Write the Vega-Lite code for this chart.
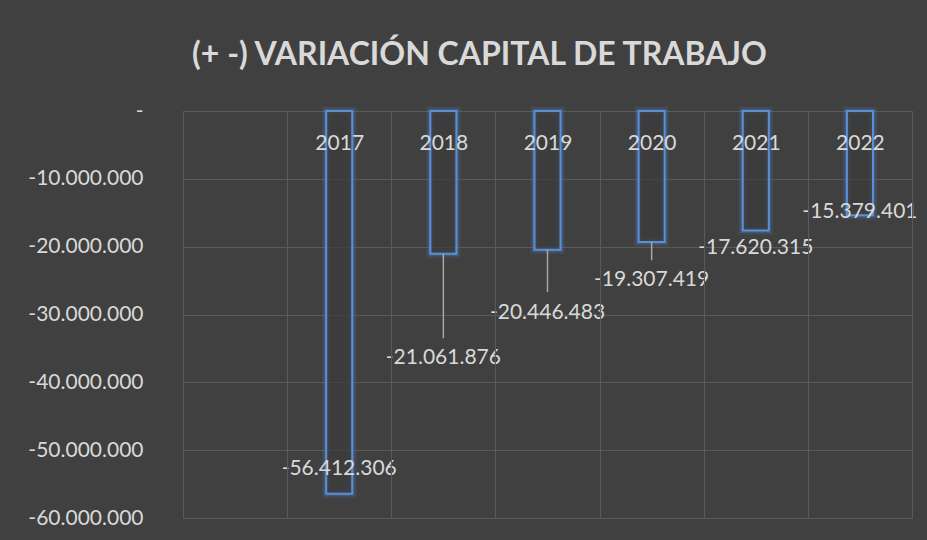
{
  "$schema": "https://vega.github.io/schema/vega-lite/v6.json",
  "width": 729,
  "height": 407,
  "autosize": {"type": "none"},
  "padding": {"left": 183, "top": 111, "right": 15, "bottom": 22},
  "background": "#404040",
  "title": {
    "text": "(+ -) VARIACIÓN CAPITAL DE TRABAJO",
    "font": "Lato",
    "fontSize": 32,
    "fontWeight": "bold",
    "color": "#d9d9d9",
    "anchor": "middle",
    "frame": "group",
    "dx": -68,
    "offset": 3,
    "baseline": "alphabetic"
  },
  "config": {
    "locale": {"number": {"decimal": ",", "thousands": ".", "grouping": [3], "currency": ["$", ""], "minus": "-"}},
    "view": {"stroke": "#5a5a5a", "strokeWidth": 1, "fill": "#404040"},
    "font": "Lato"
  },
  "data": {
    "values": [
      {"year": "2017", "value": -56412306, "labelY": -52800000, "leaderEnd": null},
      {"year": "2018", "value": -21061876, "labelY": -36400000, "leaderEnd": -33500000},
      {"year": "2019", "value": -20446483, "labelY": -29800000, "leaderEnd": -26700000},
      {"year": "2020", "value": -19307419, "labelY": -24900000, "leaderEnd": -22000000},
      {"year": "2021", "value": -17620315, "labelY": -20200000, "leaderEnd": null},
      {"year": "2022", "value": -15379401, "labelY": -14900000, "leaderEnd": null}
    ]
  },
  "encoding": {
    "x": {
      "field": "year",
      "type": "nominal",
      "scale": {"domain": ["", "2017", "2018", "2019", "2020", "2021", "2022"], "paddingInner": 0, "paddingOuter": 0},
      "axis": {
        "orient": "top",
        "title": null,
        "ticks": false,
        "domain": false,
        "grid": true,
        "tickBand": "extent",
        "gridColor": "#5a5a5a",
        "gridWidth": 1,
        "labelAngle": 0,
        "labelBaseline": "middle",
        "labelPadding": -32,
        "labelFont": "Lato",
        "labelFontSize": 21,
        "labelColor": "#d9d9d9",
        "zindex": 1
      }
    }
  },
  "layer": [
    {
      "mark": {"type": "bar", "width": {"band": 0.25}, "fillOpacity": 0, "stroke": "#4f86cf", "strokeWidth": 9, "strokeOpacity": 0.12},
      "encoding": {
        "y": {
          "field": "value",
          "type": "quantitative",
          "scale": {"domain": [-60000000, 0], "nice": false},
          "axis": {
            "values": [0, -10000000, -20000000, -30000000, -40000000, -50000000, -60000000],
            "title": null,
            "ticks": false,
            "domain": false,
            "grid": true,
            "gridColor": "#5a5a5a",
            "gridWidth": 1,
            "labelPadding": 40,
            "labelFont": "Lato",
            "labelFontSize": 21,
            "labelColor": "#d9d9d9",
            "labelExpr": "datum.value == 0 ? '-\u00a0\u00a0' : format(datum.value, ',.0f')"
          }
        }
      }
    },
    {
      "mark": {"type": "bar", "width": {"band": 0.25}, "fillOpacity": 0, "stroke": "#4f86cf", "strokeWidth": 5, "strokeOpacity": 0.25},
      "encoding": {"y": {"field": "value", "type": "quantitative"}}
    },
    {
      "mark": {"type": "bar", "width": {"band": 0.25}, "fill": "#3b3b3b", "fillOpacity": 0.7, "stroke": "#5b8fd8", "strokeWidth": 2},
      "encoding": {"y": {"field": "value", "type": "quantitative"}}
    },
    {
      "transform": [{"filter": "isValid(datum.leaderEnd)"}],
      "mark": {"type": "rule", "color": "#a6a6a6", "strokeWidth": 1.5},
      "encoding": {
        "y": {"field": "value", "type": "quantitative"},
        "y2": {"field": "leaderEnd"}
      }
    },
    {
      "mark": {"type": "text", "font": "Lato", "fontSize": 21, "color": "#d9d9d9", "align": "center", "baseline": "middle"},
      "encoding": {
        "y": {"field": "labelY", "type": "quantitative"},
        "text": {"field": "value", "type": "quantitative", "format": ",.0f"}
      }
    }
  ]
}
